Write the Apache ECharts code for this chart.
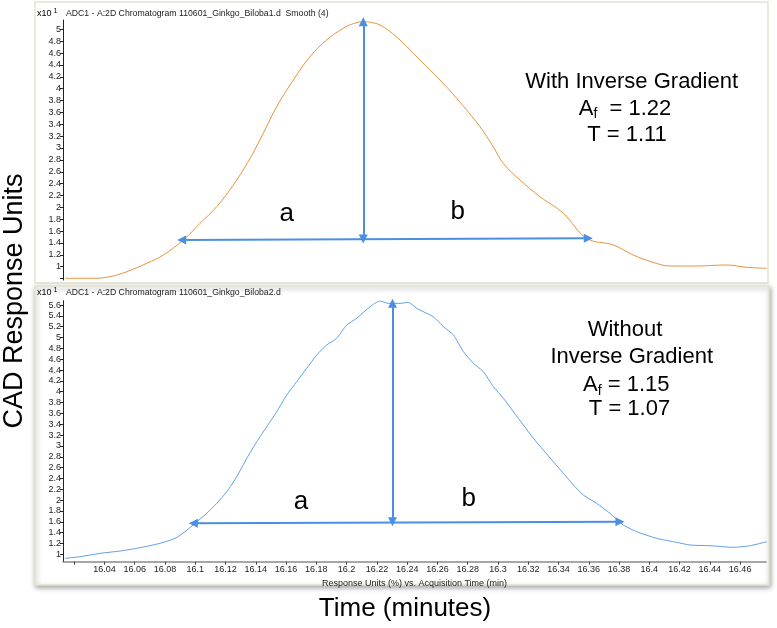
<!DOCTYPE html>
<html><head><meta charset="utf-8">
<script src="https://cdn.jsdelivr.net/npm/echarts@6/dist/echarts.min.js"></script>
<style>html,body{margin:0;padding:0;background:#fff}#c{width:777px;height:628px}</style>
</head><body><div id="c"></div>
<script>
// ---- data (time in min, response x10^1) ----
const timeWith = [16.0139,16.0326,16.0437,16.0547,16.0679,16.0789,16.0921,16.1031,16.1141,16.1251,16.1362,16.1449,16.1538,16.1648,16.1758,16.1868,16.1978,16.2044,16.2110,16.2165,16.2220,16.2287,16.2353,16.2485,16.2617,16.2727,16.2881,16.2969,16.3035,16.3146,16.3278,16.3432,16.3586,16.3762,16.3894,16.4026,16.4137,16.4313,16.4511,16.4643,16.4776];
const respWith = [0.805,0.805,0.832,0.916,1.057,1.197,1.450,1.731,2.011,2.376,2.826,3.248,3.696,4.146,4.538,4.820,5.017,5.095,5.128,5.115,5.073,4.960,4.820,4.483,4.146,3.837,3.359,3.022,2.742,2.461,2.179,1.900,1.479,1.366,1.197,1.074,1.012,1.012,1.029,0.990,0.973];

const timeWithout = [16.0139,16.0238,16.0370,16.0503,16.0635,16.0767,16.0866,16.0932,16.0998,16.1075,16.1142,16.1208,16.1274,16.1340,16.1406,16.1472,16.1538,16.1604,16.1670,16.1736,16.1802,16.1868,16.1934,16.2000,16.2066,16.2121,16.2176,16.2220,16.2275,16.2353,16.2408,16.2463,16.2507,16.2573,16.2640,16.2706,16.2772,16.2838,16.2904,16.2970,16.3036,16.3102,16.3168,16.3234,16.3300,16.3366,16.3432,16.3498,16.3564,16.3652,16.3740,16.3828,16.3917,16.4049,16.4181,16.4269,16.4401,16.4555,16.4665,16.4776];
const respWithout = [0.926,0.956,1.018,1.061,1.122,1.203,1.295,1.417,1.572,1.756,1.941,2.155,2.432,2.771,3.077,3.354,3.631,3.939,4.185,4.432,4.677,4.862,4.985,5.231,5.354,5.489,5.613,5.674,5.631,5.631,5.649,5.539,5.476,5.384,5.199,5.046,4.738,4.524,4.369,4.092,3.878,3.631,3.386,3.140,2.924,2.708,2.494,2.279,2.094,1.941,1.756,1.541,1.417,1.295,1.221,1.172,1.159,1.129,1.159,1.232];

// arrow end points [time, response]
const arrowsWith = [[[16.0910,1.450],[16.3597,1.478]], [[16.2110,1.468],[16.2110,5.128]]];
const arrowsWithout = [[[16.0987,1.572],[16.3806,1.601]], [[16.2303,1.601],[16.2303,5.631]]];

const titleWith = 'ADC1 - A:2D Chromatogram 110601_Ginkgo_Biloba1.d  Smooth (4)';
const titleWithout = 'ADC1 - A:2D Chromatogram 110601_Ginkgo_Biloba2.d';
const yAxisTitle = 'CAD Response Units';
const xAxisTitle = 'Time (minutes)';
const xAxisName = 'Response Units (%) vs. Acquisition Time (min)';

const FONT = "'Liberation Sans', Arial, Helvetica, sans-serif";
const zip = (a, b) => a.map((v, i) => [v, b[i]]);
const ORANGE = '#e8923a', BLUE = '#5f9fe3', ARROW = '#4a8fe2';

function yLab(v) {
  const k = v / 0.2;
  if (v < 0.95) return '';
  if (Math.abs(k - Math.round(k)) > 1e-6) return '';
  return String(parseFloat(v.toFixed(1)));
}
function xLab(v) {
  const k = v / 0.02;
  if (Math.abs(k - Math.round(k)) > 1e-6) return '';
  const s = String(parseFloat(v.toFixed(2)));
  return s === '16.02' ? '' : s;
}
function yAxisCfg(idx, min, max, split) {
  return {
    type: 'value', gridIndex: idx, min: min, max: max, splitNumber: split,
    axisLine: { show: true, lineStyle: { color: '#222', width: 1 } },
    axisTick: { show: true, length: 3, lineStyle: { color: '#222' } },
    splitLine: { show: false },
    axisLabel: { formatter: yLab, fontSize: 9, color: '#222', margin: 2, fontFamily: FONT, showMinLabel: false, showMaxLabel: false }
  };
}
function arrowLines(list) {
  return {
    silent: true, symbol: ['triangle', 'triangle'], symbolSize: 9,
    label: { show: false },
    lineStyle: { color: ARROW, width: 2, type: 'solid' },
    emphasis: { disabled: true },
    data: list.map(p => [{ coord: p[0] }, { coord: p[1] }])
  };
}
function bigText(x, y, text, size) {
  return { type: 'text', x: x, y: y, z: 10, style: { text: text, fill: '#000', font: size + 'px ' + FONT, align: 'center', verticalAlign: 'middle' } };
}
function afText(x, y, val, gap) {
  return { type: 'text', x: x, y: y, z: 10, style: {
    text: '{a|A}{s|f}{b|' + gap + '= ' + val + '}', align: 'center', verticalAlign: 'middle',
    rich: {
      a: { fontSize: 22, fontFamily: FONT, color: '#000', lineHeight: 26, verticalAlign: 'middle' },
      s: { fontSize: 14, fontFamily: FONT, color: '#000', lineHeight: 26, verticalAlign: 'bottom' },
      b: { fontSize: 22, fontFamily: FONT, color: '#000', lineHeight: 26, verticalAlign: 'middle' }
    } } };
}
function headText(y, title) {
  return [
    { type: 'text', x: 37, y: y, z: 10, style: { text: '{a|x10}{s| 1}', verticalAlign: 'middle',
      rich: { a: { fontSize: 9, fontFamily: FONT, color: '#222' }, s: { fontSize: 7, fontFamily: FONT, color: '#222', padding: [0,0,5,0] } } } },
    { type: 'text', x: 66, y: y, z: 10, style: { text: title, font: '8.7px ' + FONT, fill: '#222', verticalAlign: 'middle' } }
  ];
}

const chart = echarts.init(document.getElementById('c'), null, { renderer: 'canvas' });
chart.setOption({
  animation: false,
  backgroundColor: '#fff',
  grid: [
    { left: 63, top: 20, width: 703, height: 260 },
    { left: 63, top: 300.7, width: 703, height: 261 }
  ],
  xAxis: [
    { type: 'value', gridIndex: 0, min: 16.0126, max: 16.4771, splitNumber: 23, show: false },
    { type: 'value', gridIndex: 1, min: 16.0126, max: 16.4771, splitNumber: 23,
      axisLine: { show: true, onZero: false, lineStyle: { color: '#8a8a8a', width: 1.5 } },
      axisTick: { show: true, length: 3, lineStyle: { color: '#444' } },
      splitLine: { show: false },
      axisLabel: { formatter: xLab, fontSize: 9, color: '#222', margin: 3, fontFamily: FONT, showMinLabel: false, showMaxLabel: false },
      name: xAxisName, nameLocation: 'middle', nameGap: 17,
      nameTextStyle: { fontSize: 9, color: '#222', fontFamily: FONT } }
  ],
  yAxis: [
    yAxisCfg(0, 0.776, 5.157, 22),
    yAxisCfg(1, 0.864, 5.68, 24)
  ],
  series: [
    { type: 'line', xAxisIndex: 0, yAxisIndex: 0, data: zip(timeWith, respWith), showSymbol: false, smooth: 0.4,
      lineStyle: { color: ORANGE, width: 1 }, itemStyle: { color: ORANGE }, markLine: arrowLines(arrowsWith) },
    { type: 'line', xAxisIndex: 1, yAxisIndex: 1, data: zip(timeWithout, respWithout), showSymbol: false, smooth: 0.2,
      lineStyle: { color: BLUE, width: 1 }, itemStyle: { color: BLUE }, markLine: arrowLines(arrowsWithout) }
  ],
  graphic: [
    { type: 'rect', z: -5, shape: { x: 35, y: 2, width: 733, height: 281 }, style: { fill: '#fff', stroke: '#e3e3d0', lineWidth: 1.5 } },
    { type: 'rect', z: -5, shape: { x: 35, y: 286, width: 734, height: 299 }, style: { fill: '#fff', stroke: '#e3e3d0', lineWidth: 1.5, shadowBlur: 5, shadowColor: 'rgba(0,0,0,0.35)', shadowOffsetY: 2, shadowOffsetX: 1 } },
    ...headText(13.3, titleWith),
    ...headText(292.7, titleWithout),
    bigText(631.7, 81.7, 'With Inverse Gradient', 22),
    afText(625, 108.5, '1.22', '  '),
    bigText(627, 135, 'T = 1.11', 22),
    bigText(625, 330, 'Without', 22),
    bigText(631.7, 356.7, 'Inverse Gradient', 22),
    afText(626.3, 384.7, '1.15', ' '),
    bigText(629.5, 408.7, 'T = 1.07', 22),
    bigText(286.7, 214, 'a', 26),
    bigText(457.8, 212, 'b', 26),
    bigText(301, 502, 'a', 26),
    bigText(468.8, 499, 'b', 26),
    { type: 'text', x: 15, y: 301, rotation: Math.PI / 2, z: 10, style: { text: yAxisTitle, fill: '#000', font: '27px ' + FONT, align: 'center', verticalAlign: 'middle' } },
    bigText(405, 609, xAxisTitle, 26)
  ]
});
</script></body></html>
